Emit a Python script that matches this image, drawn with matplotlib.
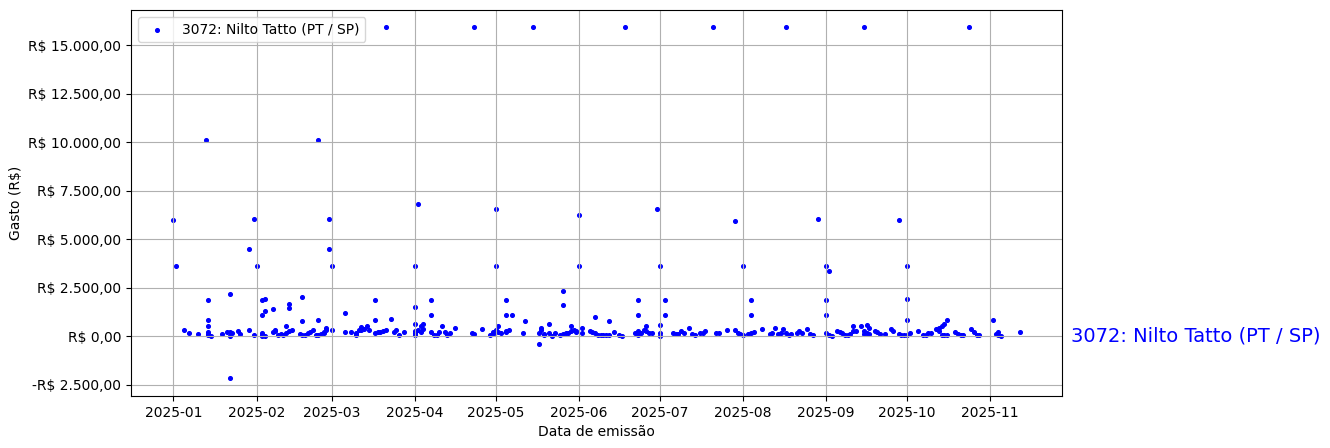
import matplotlib
matplotlib.use('Agg')
import matplotlib.dates as mdates
import matplotlib.pyplot as plt
import matplotlib.transforms as mtransforms
import pandas as pd
from matplotlib.ticker import FuncFormatter

deputado = '3072: Nilto Tatto (PT / SP)'

# (data de emissao, valor)
datas = [
    '2025-01-01', '2025-01-02', '2025-01-05', '2025-01-07', '2025-01-10', '2025-01-13',
    '2025-01-14', '2025-01-14', '2025-01-14', '2025-01-14', '2025-01-14', '2025-01-14',
    '2025-01-15', '2025-01-19', '2025-01-21', '2025-01-22', '2025-01-22', '2025-01-22',
    '2025-01-22', '2025-01-23', '2025-01-25', '2025-01-26', '2025-01-29', '2025-01-29',
    '2025-01-31', '2025-01-31', '2025-02-01',
    '2025-02-03', '2025-02-03', '2025-02-03', '2025-02-03', '2025-02-03', '2025-02-04',
    '2025-02-04', '2025-02-04', '2025-02-07', '2025-02-07', '2025-02-08', '2025-02-08',
    '2025-02-09', '2025-02-10', '2025-02-11', '2025-02-12', '2025-02-12', '2025-02-13',
    '2025-02-13', '2025-02-13', '2025-02-14', '2025-02-17', '2025-02-18', '2025-02-18',
    '2025-02-18', '2025-02-19', '2025-02-20', '2025-02-21', '2025-02-22', '2025-02-23',
    '2025-02-24', '2025-02-24', '2025-02-24', '2025-02-25', '2025-02-26', '2025-02-26',
    '2025-02-27', '2025-02-27', '2025-02-28', '2025-02-28', '2025-03-01', '2025-03-01',
    '2025-03-06', '2025-03-06', '2025-03-08', '2025-03-10', '2025-03-10', '2025-03-11',
    '2025-03-12', '2025-03-12', '2025-03-13', '2025-03-14', '2025-03-15', '2025-03-17',
    '2025-03-17', '2025-03-17', '2025-03-18', '2025-03-19', '2025-03-20', '2025-03-21',
    '2025-03-21', '2025-03-23', '2025-03-24', '2025-03-25', '2025-03-26', '2025-03-28',
    '2025-04-01', '2025-04-01', '2025-04-01', '2025-04-01', '2025-04-01', '2025-04-01',
    '2025-04-02', '2025-04-02', '2025-04-03', '2025-04-03', '2025-04-04', '2025-04-04',
    '2025-04-07', '2025-04-07', '2025-04-07', '2025-04-08', '2025-04-09', '2025-04-10',
    '2025-04-11', '2025-04-12', '2025-04-13', '2025-04-14', '2025-04-16', '2025-04-22',
    '2025-04-23', '2025-04-23', '2025-04-26', '2025-04-29', '2025-04-30', '2025-04-30',
    '2025-05-01', '2025-05-01', '2025-05-01', '2025-05-01', '2025-05-02', '2025-05-02',
    '2025-05-03', '2025-05-05', '2025-05-05', '2025-05-05', '2025-05-05', '2025-05-06',
    '2025-05-07', '2025-05-11', '2025-05-12', '2025-05-15', '2025-05-17', '2025-05-17',
    '2025-05-18', '2025-05-18', '2025-05-19', '2025-05-19', '2025-05-21', '2025-05-21',
    '2025-05-22', '2025-05-23', '2025-05-25', '2025-05-26', '2025-05-26', '2025-05-26',
    '2025-05-27', '2025-05-28', '2025-05-29', '2025-05-29', '2025-05-30', '2025-05-31',
    '2025-05-31',
    '2025-06-01', '2025-06-01', '2025-06-02', '2025-06-02', '2025-06-05', '2025-06-06',
    '2025-06-07', '2025-06-07', '2025-06-08', '2025-06-09', '2025-06-10', '2025-06-11',
    '2025-06-12', '2025-06-12', '2025-06-14', '2025-06-16', '2025-06-17', '2025-06-18',
    '2025-06-22', '2025-06-23', '2025-06-23', '2025-06-23', '2025-06-23', '2025-06-24',
    '2025-06-25', '2025-06-26', '2025-06-26', '2025-06-27', '2025-06-28', '2025-06-30',
    '2025-07-01', '2025-07-01', '2025-07-01', '2025-07-01', '2025-07-03', '2025-07-03',
    '2025-07-06', '2025-07-07', '2025-07-08', '2025-07-09', '2025-07-10', '2025-07-12',
    '2025-07-13', '2025-07-14', '2025-07-16', '2025-07-17', '2025-07-18', '2025-07-21',
    '2025-07-22', '2025-07-23', '2025-07-26', '2025-07-29', '2025-07-29', '2025-07-30',
    '2025-07-31',
    '2025-08-01', '2025-08-01', '2025-08-03', '2025-08-04', '2025-08-04', '2025-08-04',
    '2025-08-05', '2025-08-08', '2025-08-11', '2025-08-12', '2025-08-13', '2025-08-14',
    '2025-08-15', '2025-08-16', '2025-08-17', '2025-08-17', '2025-08-18', '2025-08-19',
    '2025-08-21', '2025-08-22', '2025-08-23', '2025-08-25', '2025-08-26', '2025-08-27',
    '2025-08-29',
    '2025-09-01', '2025-09-01', '2025-09-01', '2025-09-01', '2025-09-02', '2025-09-02',
    '2025-09-03', '2025-09-05', '2025-09-06', '2025-09-07', '2025-09-08', '2025-09-09',
    '2025-09-10', '2025-09-11', '2025-09-11', '2025-09-12', '2025-09-14', '2025-09-15',
    '2025-09-15', '2025-09-15', '2025-09-16', '2025-09-16', '2025-09-17', '2025-09-17',
    '2025-09-19', '2025-09-20', '2025-09-21', '2025-09-23', '2025-09-25', '2025-09-26',
    '2025-09-28', '2025-09-28', '2025-09-29', '2025-09-30',
    '2025-10-01', '2025-10-01', '2025-10-01', '2025-10-01', '2025-10-02', '2025-10-05',
    '2025-10-07', '2025-10-08', '2025-10-09', '2025-10-10', '2025-10-12', '2025-10-13',
    '2025-10-13', '2025-10-14', '2025-10-14', '2025-10-15', '2025-10-15', '2025-10-16',
    '2025-10-16', '2025-10-19', '2025-10-20', '2025-10-21', '2025-10-22', '2025-10-24',
    '2025-10-25', '2025-10-26', '2025-10-27', '2025-10-28',
    '2025-11-02', '2025-11-03', '2025-11-04', '2025-11-04', '2025-11-05', '2025-11-12',
]

valores = [
    6000, 3620, 295, 190, 100, 10140,
    1850, 860, 520, 220, 100, 50,
    30, 140, 220, 220, 0, 2170,
    -2180, 180, 260, 140, 295, 4500,
    50, 6050, 3600,
    1860, 1120, 180, 50, 0, 1900,
    1290, 0, 1380, 200, 300, 250,
    50, 100, 60, 520, 150, 1640,
    1430, 250, 295, 100, 2020, 760,
    60, 60, 150, 230, 300, 60,
    10140, 830, 60, 100, 150, 230,
    400, 300, 6050, 4500, 3600, 295,
    1210, 240, 220, 60, 150, 300,
    300, 450, 360, 520, 300, 1860,
    860, 150, 200, 200, 250, 15930,
    300, 870, 200, 300, 50, 200,
    3600, 1500, 640, 250, 150, 50,
    6830, 300, 520, 200, 640, 360,
    1850, 1120, 200, 60, 60, 200,
    520, 200, 60, 150, 400, 170,
    15930, 130, 350, 60, 100, 200,
    6570, 3600, 250, 300, 520, 200,
    150, 1850, 1120, 200, 250, 300,
    1120, 170, 810, 15930, -380, 170,
    430, 300, 60, 100, 640, 170,
    20, 170, 60, 2330, 1590, 100,
    150, 170, 550, 250, 300, 200,
    250,
    6260, 3600, 430, 170, 250, 200,
    980, 170, 60, 50, 50, 50,
    780, 60, 200, 60, 0, 15930,
    170, 1850, 1120, 250, 60, 170,
    300, 550, 250, 170, 170, 6570,
    3600, 0, 170, 600, 1850, 1120,
    170, 100, 100, 250, 170, 400,
    100, 60, 150, 170, 250, 15930,
    170, 170, 295, 5950, 295, 170,
    100,
    3600, 60, 100, 1850, 1120, 170,
    200, 350, 100, 170, 400, 100,
    170, 350, 15930, 170, 60, 100,
    170, 250, 170, 350, 100, 60,
    6050,
    3600, 1850, 1120, 170, 3360, 60,
    20, 250, 200, 170, 60, 60,
    100, 550, 250, 250, 550, 15930,
    250, 100, 170, 600, 400, 100,
    250, 200, 100, 100, 350, 250,
    6000, 100, 60, 60,
    3600, 1900, 860, 60, 170, 250,
    60, 60, 150, 170, 350, 400,
    250, 520, 60, 640, 60, 860,
    60, 200, 100, 60, 60, 15930,
    380, 200, 60, 60,
    860, 100, 200, 60, 20, 200,
]


def formata_real(v, pos):
    texto = '{:,.2f}'.format(abs(v)).replace(',', 'X').replace('.', ',').replace('X', '.')
    if v < 0:
        return '-R$ ' + texto
    return 'R$ ' + texto


df = pd.DataFrame({'data': pd.to_datetime(datas), 'valor': valores})

fig, ax = plt.subplots(figsize=(13.3, 4.48), dpi=100)
fig.subplots_adjust(left=0.0985, right=0.7985, top=0.978, bottom=0.116)

ax.scatter(df['data'], df['valor'], s=7, color='blue', label=deputado)

ax.yaxis.set_major_formatter(FuncFormatter(formata_real))
ax.xaxis.set_major_locator(mdates.MonthLocator())
ax.xaxis.set_major_formatter(mdates.DateFormatter('%Y-%m'))

trans = mtransforms.blended_transform_factory(ax.transAxes, ax.transData)
ax.text(1.01, 0, deputado, transform=trans, color='blue', fontsize=14,
        va='center', ha='left', clip_on=False)

ax.set_xlabel('Data de emissão')
ax.set_ylabel('Gasto (R$)')
ax.legend(loc='upper left')
ax.grid(True)

fig.savefig('out.png', dpi=100)
